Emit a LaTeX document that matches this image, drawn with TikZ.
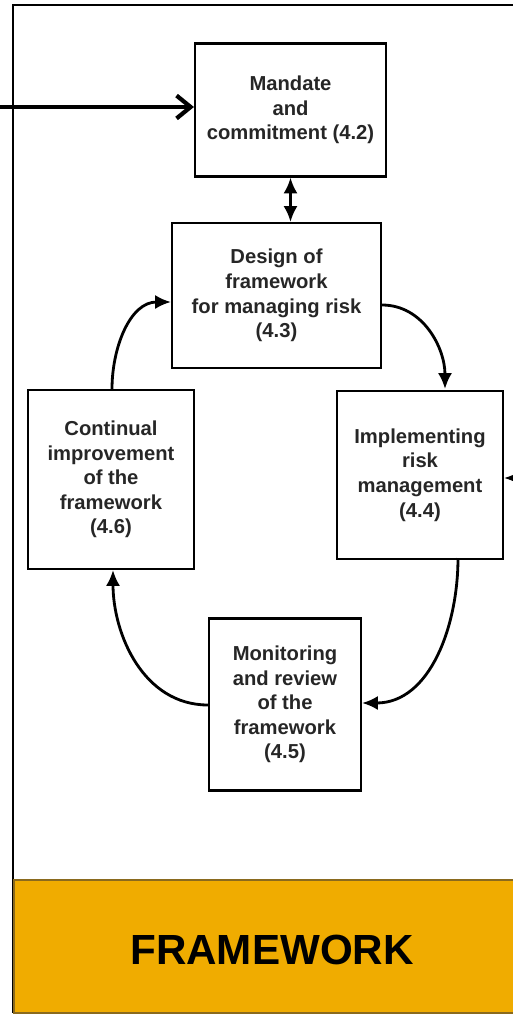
\documentclass[tikz,border=0pt]{standalone}
\usepackage{fontspec}
\setmainfont{Liberation Sans}
\usetikzlibrary{arrows.meta}
\definecolor{bandorange}{HTML}{F0AC00}
\definecolor{bandedge}{HTML}{8A6A1E}
\tikzstyle{stage}=[draw, line width=1.2pt, align=center, inner sep=2pt,
  font=\fontsize{11.5}{14}\selectfont\bfseries, text=black!85]
\tikzstyle{flow}=[->, line width=1.6pt]

\begin{document}
\begin{tikzpicture}[x=0.02cm,y=-0.02cm,>={Latex[length=9pt,width=8pt]}]
    \useasboundingbox (0,0) rectangle (512,1017);
    % frame and band
    \fill[white] (0,0) rectangle (512,1017);
    \draw[line width=1.2pt] (540,5) -- (13,5) -- (13,1013);
    \draw[fill=bandorange, draw=bandedge, line width=0.8pt] (540,880) -- (14,880) -- (14,1013) -- (540,1013);
    \node[font=\fontsize{24}{28}\selectfont\bfseries] (band) at (272,950) {FRAMEWORK};

    % stages
    \node [stage, minimum width=3.82cm, minimum height=2.66cm] (mandate) at (290.5,110)
        {Mandate\\and\\commitment (4.2)};
    \node [stage, minimum width=4.18cm, minimum height=2.9cm] (design) at (276.5,295.5)
        {Design of\\framework\\for managing risk\\(4.3)};
    \node [stage, minimum width=3.32cm, minimum height=3.36cm] (impl) at (420,475)
        {Implementing\\risk\\management\\(4.4)};
    \node [stage, minimum width=3.04cm, minimum height=3.44cm] (monit) at (285,704.5)
        {Monitoring\\and review\\of the\\framework\\(4.5)};
    \node [stage, minimum width=3.32cm, minimum height=3.58cm] (cont) at (111,479.5)
        {Continual\\improvement\\of the\\framework\\(4.6)};

    % outside inputs
    \coordinate (in) at (0,107);
    \coordinate (inright) at (545,478);
    \draw[-{Straight Barb[length=8pt,width=13pt,line width=2.4pt]}, line width=2.6pt] (in) -- (mandate.west |- in);
    \draw[flow] (inright) -- (impl.east |- inright);

    % loop
    \draw[<->, line width=1.6pt] (mandate.south) -- (mandate.south |- design.north);
    \draw[flow] (design.east |- 0,305) to[out=0,in=90] (445,389);
    \draw[flow] (458,558) to[out=-90,in=0] (monit.east |- 0,703);
    \draw[flow] (monit.west |- 0,705) to[out=180,in=-90] (113,570);
    \draw[flow] (112,389) to[out=90,in=180] (design.west |- 0,302);
\end{tikzpicture}
\end{document}
